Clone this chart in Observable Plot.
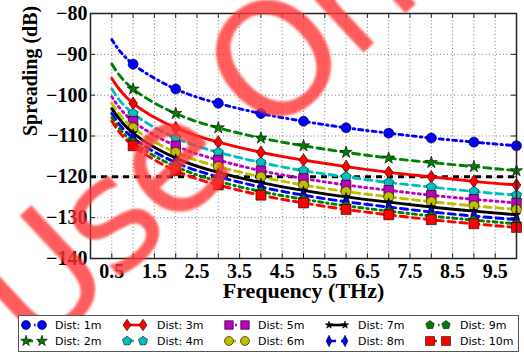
<!DOCTYPE html>
<html><head><meta charset="utf-8">
<script src="https://cdn.jsdelivr.net/npm/d3@7"></script>
<script src="https://cdn.jsdelivr.net/npm/@observablehq/plot@0.6"></script>
<style>
html,body{margin:0;padding:0;background:#fff;}
#wrap{position:relative;width:524px;height:354px;overflow:hidden;background:#fff;}
#wrap svg.ov{position:absolute;left:0;top:0;pointer-events:none;}
</style></head><body><div id="wrap"></div>
<script>
// ---- data ----
const freqs = [0.5, 1, 2, 3, 4, 5, 6, 7, 8, 9, 10];
const distLabels = ["Dist: 1m","Dist: 2m","Dist: 3m","Dist: 4m","Dist: 5m","Dist: 6m","Dist: 7m","Dist: 8m","Dist: 9m","Dist: 10m"];
const d1m  = [-86.4, -92.4, -98.5, -102.0, -104.5, -106.4, -108.0, -109.3, -110.5, -111.5, -112.4];
const d2m  = [-92.4, -98.5, -104.5, -108.0, -110.5, -112.4, -114.0, -115.4, -116.5, -117.5, -118.5];
const d3m  = [-95.9, -102.0, -108.0, -111.5, -114.0, -115.9, -117.5, -118.9, -120.0, -121.1, -122.0];
const d4m  = [-98.5, -104.5, -110.5, -114.0, -116.5, -118.5, -120.0, -121.4, -122.5, -123.6, -124.5];
const d5m  = [-100.4, -106.4, -112.4, -115.9, -118.5, -120.4, -122.0, -123.3, -124.5, -125.5, -126.4];
const d6m  = [-102.0, -108.0, -114.0, -117.5, -120.0, -122.0, -123.6, -124.9, -126.1, -127.1, -128.0];
const d7m  = [-103.3, -109.3, -115.4, -118.9, -121.4, -123.3, -124.9, -126.2, -127.4, -128.4, -129.3];
const d8m  = [-104.5, -110.5, -116.5, -120.0, -122.5, -124.5, -126.1, -127.4, -128.6, -129.6, -130.5];
const d9m  = [-105.5, -111.5, -117.5, -121.1, -123.6, -125.5, -127.1, -128.4, -129.6, -130.6, -131.5];
const d10m = [-106.4, -112.4, -118.5, -122.0, -124.5, -126.4, -128.0, -129.3, -130.5, -131.5, -132.4];
const seriesValues = [d1m, d2m, d3m, d4m, d5m, d6m, d7m, d8m, d9m, d10m];
const threshold = [-120];
const yTicks = [-80, -90, -100, -110, -120, -130, -140];
const xGrid = [0.5, 1, 1.5, 2, 2.5, 3, 3.5, 4, 4.5, 5, 5.5, 6, 6.5, 7, 7.5, 8, 8.5, 9, 9.5];
const xTickLabels = [0.5, 1.5, 2.5, 3.5, 4.5, 5.5, 6.5, 7.5, 8.5, 9.5];
const yLabel = "Spreading (dB)";
const xLabel = "Frequency (THz)";
const watermark = "Use Only";

// ---- custom symbols ----
const pentagon = {draw(ctx, size) {
  const r = Math.sqrt(size / Math.PI) * 1.15;
  for (let k = 0; k < 5; k++) {
    const a = -Math.PI / 2 + k * 2 * Math.PI / 5;
    const x = r * Math.cos(a), y = r * Math.sin(a);
    if (k === 0) ctx.moveTo(x, y); else ctx.lineTo(x, y);
  }
  ctx.closePath();
}};
const thinDiamond = (k) => ({draw(ctx, size) {
  const h = Math.sqrt(size / Math.PI) * 1.4, w = h * k;
  ctx.moveTo(0, -h); ctx.lineTo(w, 0); ctx.lineTo(0, h); ctx.lineTo(-w, 0); ctx.closePath();
}});

// ---- styles ----
const styles = [
  {color: "#0000ff", dash: "4,4,1.5,4", symbol: d3.symbolCircle, r: 5},
  {color: "#008000", dash: "7,5", symbol: d3.symbolStar, r: 3.8},
  {color: "#ff0000", dash: null, symbol: thinDiamond(0.68), r: 4.6},
  {color: "#00bfbf", dash: "7,5", symbol: pentagon, r: 4.6},
  {color: "#bf00bf", dash: "2,4", symbol: d3.symbolSquare, r: 5.4},
  {color: "#bfbf00", dash: "7,5", symbol: d3.symbolCircle, r: 5},
  {color: "#000000", dash: null, symbol: d3.symbolStar, r: 2.6},
  {color: "#0000ff", dash: "7,5", symbol: thinDiamond(0.5), r: 4.6},
  {color: "#008000", dash: "4,4,1.5,4", symbol: pentagon, r: 4.3},
  {color: "#ff0000", dash: "7,5", symbol: d3.symbolSquare, r: 5.6}
];

const serif = "Liberation Serif, Times New Roman, serif";
const marks = [
  Plot.ruleX(xGrid, {stroke: "#000", strokeOpacity: 0.5, strokeWidth: 1, strokeDasharray: "1,2.5"}),
  Plot.ruleY(yTicks, {stroke: "#000", strokeOpacity: 0.5, strokeWidth: 1, strokeDasharray: "1,2.5"}),
  Plot.ruleY(yTicks, {x1: 0, x2: 0.12, stroke: "#222"}),
  Plot.ruleY(yTicks, {x1: 9.88, x2: 10, stroke: "#222"}),
  Plot.ruleX(xGrid, {y1: -140, y2: -138.8, stroke: "#222"}),
  Plot.ruleX(xGrid, {y1: -80, y2: -81.2, stroke: "#222"}),
  Plot.ruleY(threshold, {stroke: "#000", strokeWidth: 3, strokeDasharray: "6,5"})
];
seriesValues.forEach((vals, i) => {
  const s = styles[i];
  const rows = freqs.map((f, j) => ({f, v: vals[j], name: distLabels[i]}));
  marks.push(Plot.line(rows, {x: "f", y: "v", stroke: s.color, strokeWidth: 2.9, strokeDasharray: s.dash || undefined, curve: "natural"}));
  marks.push(Plot.dot(rows.filter(d => d.f >= 1), {x: "f", y: "v", symbol: s.symbol, r: s.r, fill: s.color, stroke: "#000", strokeWidth: 0.6}));
});
marks.push(
  Plot.frame({stroke: "#222", strokeWidth: 1.5}),
  Plot.axisY(yTicks, {tickSize: 0, tickPadding: 3, label: null, tickFormat: d3.format("d"), fontSize: 20, fontWeight: "bold", fontFamily: serif}),
  Plot.axisX(xTickLabels, {tickSize: 0, tickPadding: 5, label: null, tickFormat: d3.format(".1f"), fontSize: 20, fontWeight: "bold", fontFamily: serif}),
  Plot.text([yLabel], {frameAnchor: "left", dx: -60, rotate: -90, fontSize: 20, fontWeight: "bold", fontFamily: serif}),
  Plot.text([xLabel], {frameAnchor: "bottom", dy: 39, fontSize: 22, fontWeight: "bold", fontFamily: serif})
);

const chart = Plot.plot({
  width: 524, height: 312,
  marginLeft: 90, marginRight: 8, marginTop: 13, marginBottom: 54,
  x: {domain: [0, 10]},
  y: {domain: [-140, -80]},
  style: {background: "#fff", color: "#000", fontFamily: serif, overflow: "visible"},
  marks
});
const wrap = document.getElementById("wrap");
wrap.appendChild(chart);

// ---- watermark (under the legend) ----
const wm = d3.select(wrap).append("svg").attr("class", "ov").attr("width", 524).attr("height", 354);
wm.append("text").attr("transform", "translate(36,358) rotate(-43)")
  .attr("font-family", "DejaVu Sans").attr("font-size", 156).attr("letter-spacing", -6)
  .attr("fill", "#ff3535").attr("fill-opacity", 0.8).style("filter", "blur(1px)")
  .text(watermark);

// ---- legend ----
const leg = d3.select(wrap).append("svg").attr("class", "ov").attr("width", 524).attr("height", 354);
leg.append("rect").attr("x", 18.5).attr("y", 315.5).attr("width", 500).attr("height", 36).attr("fill", "#fff").attr("stroke", "#555").attr("stroke-width", 1);
const colX = [26, 127, 229, 329, 430];
const textX = [55, 157, 258, 358, 460];
const rowY = [325, 341];
distLabels.forEach((lab, i) => {
  const s = styles[i];
  const c = Math.floor(i / 2), r = i % 2;
  const x0 = colX[c], y0 = rowY[r];
  const g = leg.append("g");
  g.append("line").attr("x1", x0).attr("x2", x0 + 16).attr("y1", y0).attr("y2", y0)
    .attr("stroke", s.color).attr("stroke-width", 2.6).attr("stroke-dasharray", s.dash);
  const path = d3.symbol(s.symbol, s.r * s.r * Math.PI * 0.8)();
  [x0, x0 + 16].forEach(x => g.append("path").attr("d", path).attr("transform", `translate(${x},${y0})`)
    .attr("fill", s.color).attr("stroke", "#000").attr("stroke-width", 0.6));
  g.append("text").attr("x", textX[c]).attr("y", y0).attr("dy", "0.35em").attr("font-family", "DejaVu Sans")
    .attr("font-size", 11).text(lab);
});
</script></body></html>
